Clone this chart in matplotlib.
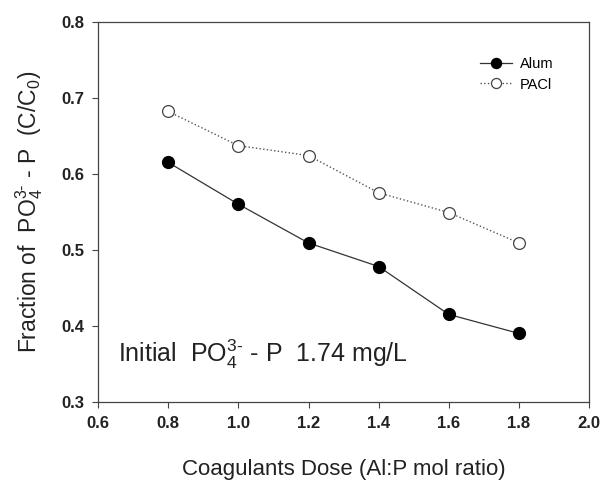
import matplotlib
matplotlib.use("Agg")
import matplotlib.pyplot as plt

plt.rcParams['font.family'] = ['Liberation Sans', 'DejaVu Sans']
plt.rcParams['mathtext.fontset'] = 'custom'
plt.rcParams['mathtext.rm'] = 'Liberation Sans'
plt.rcParams['mathtext.it'] = 'Liberation Sans:italic'
plt.rcParams['mathtext.bf'] = 'Liberation Sans:bold'

# data
dose = [0.8, 1.0, 1.2, 1.4, 1.6, 1.8]
alum = [0.615, 0.560, 0.509, 0.478, 0.415, 0.390]
pacl = [0.682, 0.637, 0.624, 0.575, 0.549, 0.509]
xticks = [0.6, 0.8, 1.0, 1.2, 1.4, 1.6, 1.8, 2.0]
yticks = [0.3, 0.4, 0.5, 0.6, 0.7, 0.8]

fig = plt.figure(figsize=(6.13, 4.83), dpi=100)
ax = fig.add_axes([0.160, 0.168, 0.801, 0.787])

ax.plot(dose, alum, '-', color='#333333', lw=0.9, marker='o', ms=8.5,
        mfc='black', mec='black', label='Alum')
ax.plot(dose, pacl, ':', color='#555555', lw=1.0, marker='o', ms=8.5,
        mfc='white', mec='#444444', mew=0.9, label='PACl')

ax.set_xlim(0.6, 2.0)
ax.set_ylim(0.3, 0.8)
ax.set_xticks(xticks)
ax.set_yticks(yticks)
ax.set_xticklabels(['%.1f' % v for v in xticks], fontweight='bold', fontsize=12)
ax.set_yticklabels(['%.1f' % v for v in yticks], fontweight='bold', fontsize=12)
ax.tick_params(direction='out', length=4, width=0.8, color='#444444', pad=6,
               labelcolor='#222222')
for s in ax.spines.values():
    s.set_linewidth(0.9)
    s.set_color('#444444')

ax.set_xlabel('Coagulants Dose (Al:P mol ratio)', fontsize=16, labelpad=20,
              color='#222222')
ax.set_ylabel(r'Fraction of  PO$_4^{3\text{-}}$ - P  (C/C$_0$)', fontsize=16.5,
              labelpad=12, color='#222222')

ax.text(0.041, 0.104, r'Initial  PO$_4^{3\text{-}}$ - P  1.74 mg/L',
        transform=ax.transAxes, fontsize=18, color='#222222', va='baseline')

leg = ax.legend(loc='upper left', bbox_to_anchor=(0.778, 0.906), frameon=False,
                fontsize=10.5, handlelength=2.2, markerscale=0.85,
                handletextpad=0.55, labelspacing=0.42, borderpad=0,
                borderaxespad=0)

fig.savefig('out.png', dpi=100)
